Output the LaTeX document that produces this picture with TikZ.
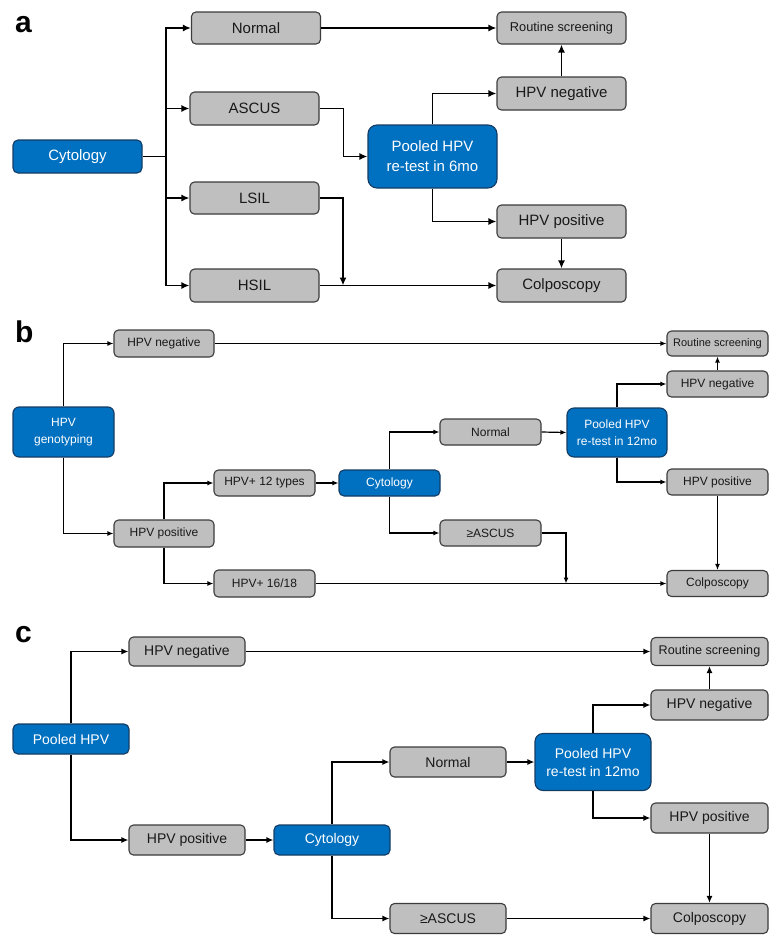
\documentclass[tikz,border=0pt]{standalone}
\usepackage{fontspec}
\setmainfont{Liberation Sans}
\usetikzlibrary{arrows.meta,calc}
\definecolor{boxgray}{RGB}{191,191,191}
\definecolor{boxedge}{RGB}{60,60,60}
\definecolor{boxblue}{RGB}{0,112,192}
\definecolor{blueedge}{RGB}{20,60,100}
\definecolor{txt}{RGB}{25,25,25}
\tikzset{
  gbox/.style={draw=boxedge, fill=boxgray, text=txt, rounded corners=4.5pt, inner sep=0pt, align=center, line width=1.1pt},
  bbox/.style={draw=blueedge, fill=boxblue, text=white, rounded corners=5pt, inner sep=0pt, align=center, line width=1.1pt},
  fa/.style={font=\fontsize{15}{20}\selectfont},
  fas/.style={font=\fontsize{12.8}{16}\selectfont},
  fb/.style={font=\fontsize{12}{16.5}\selectfont},
  fbs/.style={font=\fontsize{11}{14}\selectfont},
  fc/.style={font=\fontsize{14}{18}\selectfont},
  fcs/.style={font=\fontsize{12.6}{16}\selectfont},
  arra/.style={line width=1.8pt, -{Latex[length=8pt,width=7pt]}},
  lina/.style={line width=1.8pt},
  arrb/.style={line width=1.2pt, -{Latex[length=6pt,width=5pt]}},
  linb/.style={line width=1.2pt},
  arrc/.style={line width=1.4pt, -{Latex[length=7pt,width=6pt]}},
  linc/.style={line width=1.4pt},
  plabel/.style={anchor=base west, inner sep=0pt, font=\bfseries\fontsize{30}{30}\selectfont}
}
\begin{document}
\begin{tikzpicture}[x=1pt,y=-1pt]
\useasboundingbox[fill=white] (0,0) rectangle (773,940);

% ---------------- panel a ----------------
\node[plabel] (la) at (15,32) {a};
\node[bbox,fa,minimum width=129,minimum height=33] (acyt) at (77.5,156.5) {Cytology};
\node[gbox,fa,minimum width=129,minimum height=32] (anorm) at (256,28) {Normal};
\node[gbox,fa,minimum width=129,minimum height=33] (aascus) at (254.5,108.5) {ASCUS};
\node[gbox,fa,minimum width=129,minimum height=32] (alsil) at (254.5,198) {LSIL};
\node[gbox,fa,minimum width=129,minimum height=33] (ahsil) at (254.5,285.5) {HSIL};
\node[bbox,fa,rounded corners=9pt,minimum width=129,minimum height=63] (apool) at (432.5,156.5) {Pooled HPV\\re-test in 6mo};
\node[gbox,fas,minimum width=129,minimum height=32] (arout) at (561.5,28) {Routine screening};
\node[gbox,fa,minimum width=129,minimum height=33] (aneg) at (561.5,93.5) {HPV negative};
\node[gbox,fa,minimum width=129,minimum height=33] (apos) at (561.5,221.5) {HPV positive};
\node[gbox,fa,minimum width=129,minimum height=33] (acolp) at (561.5,285.5) {Colposcopy};
\coordinate (atr) at (166,156.5);
\coordinate (aj) at (343,285.5);
\draw[lina] (acyt.east) -- (atr);
\draw[arra] (atr) |- (anorm.west);
\draw[arra] (atr) |- (aascus.west);
\draw[arra] (atr) |- (alsil.west);
\draw[arra] (atr) |- (ahsil.west);
\draw[arra] (aascus.east) -- ++(24,0) |- (apool.west);
\draw[arra] (alsil.east) -| (aj);
\draw[arra] (ahsil.east) -- (acolp.west);
\draw[arra] (anorm.east) -- (arout.west);
\draw[arra] (apool.north) |- (aneg.west);
\draw[arra] (apool.south) |- (apos.west);
\draw[arra] (aneg.north) -- (arout.south);
\draw[arra] (apos.south) -- (acolp.north);

% ---------------- panel b ----------------
\node[plabel] (lb) at (15,342) {b};
\node[bbox,fb,rounded corners=6pt,minimum width=101,minimum height=50] (bgen) at (63.5,432) {HPV\\genotyping};
\node[gbox,fb,minimum width=100,minimum height=27] (bneg) at (164,343.5) {HPV negative};
\node[gbox,fb,minimum width=100,minimum height=27] (bpos) at (164,533.5) {HPV positive};
\node[gbox,fb,minimum width=101,minimum height=26] (b12) at (264.5,483) {HPV+ 12 types};
\node[gbox,fb,minimum width=101,minimum height=27] (b1618) at (264.5,583.5) {HPV+ 16/18};
\node[bbox,fb,minimum width=101,minimum height=26] (bcyt) at (389.5,483) {Cytology};
\node[gbox,fb,minimum width=101,minimum height=26] (bnorm) at (490.5,432) {Normal};
\node[gbox,fb,minimum width=101,minimum height=26] (basc) at (490.5,533) {≥ASCUS};
\node[bbox,fb,rounded corners=7pt,minimum width=100,minimum height=49] (bpool) at (617,432.5) {Pooled HPV\\re-test in 12mo};
\node[gbox,fbs,minimum width=101,minimum height=25] (brout) at (717.5,343.5) {Routine screening};
\node[gbox,fb,minimum width=101,minimum height=26] (bneg2) at (717.5,384) {HPV negative};
\node[gbox,fb,minimum width=101,minimum height=26] (bpos2) at (717.5,482) {HPV positive};
\node[gbox,fb,minimum width=101,minimum height=26] (bcolp) at (717.5,583.5) {Colposcopy};
\coordinate (bj) at (566,583.5);
\draw[arrb] (bgen.north) |- (bneg.west);
\draw[arrb] (bgen.south) |- (bpos.west);
\draw[arrb] (bpos.north) |- (b12.west);
\draw[arrb] (bpos.south) |- (b1618.west);
\draw[arrb] (b12.east) -- (bcyt.west);
\draw[arrb] (bcyt.north) |- (bnorm.west);
\draw[arrb] (bcyt.south) |- (basc.west);
\draw[arrb] (bnorm.east) -- (bpool.west);
\draw[arrb] (bpool.north) |- (bneg2.west);
\draw[arrb] (bpool.south) |- (bpos2.west);
\draw[arrb] (bneg.east) -- (brout.west);
\draw[arrb] (bneg2.north) -- (brout.south);
\draw[arrb] (bpos2.south) -- (bcolp.north);
\draw[arrb] (b1618.east) -- (bcolp.west);
\draw[arrb] (basc.east) -| (bj);

% ---------------- panel c ----------------
\node[plabel] (lc) at (15,642) {c};
\node[bbox,fc,minimum width=116,minimum height=30] (cpool) at (71,739) {Pooled HPV};
\node[gbox,fc,minimum width=116,minimum height=29] (cneg) at (187,651.5) {HPV negative};
\node[gbox,fc,minimum width=116,minimum height=30] (cpos) at (187,840) {HPV positive};
\node[bbox,fc,minimum width=116,minimum height=30] (ccyt) at (332,840) {Cytology};
\node[gbox,fc,minimum width=116,minimum height=30] (cnorm) at (448,762) {Normal};
\node[gbox,fc,minimum width=116,minimum height=30] (casc) at (448,918.5) {≥ASCUS};
\node[bbox,fc,rounded corners=8pt,minimum width=116,minimum height=57] (cpool2) at (593,762) {Pooled HPV\\re-test in 12mo};
\node[gbox,fcs,minimum width=117,minimum height=28] (crout) at (709.5,651.5) {Routine screening};
\node[gbox,fc,minimum width=117,minimum height=30] (cneg2) at (709.5,705) {HPV negative};
\node[gbox,fc,minimum width=117,minimum height=30] (cpos2) at (709.5,818) {HPV positive};
\node[gbox,fc,minimum width=117,minimum height=30] (ccolp) at (709.5,918.5) {Colposcopy};
\draw[arrc] (cpool.north) |- (cneg.west);
\draw[arrc] (cpool.south) |- (cpos.west);
\draw[arrc] (cpos.east) -- (ccyt.west);
\draw[arrc] (ccyt.north) |- (cnorm.west);
\draw[arrc] (ccyt.south) |- (casc.west);
\draw[arrc] (cnorm.east) -- (cpool2.west);
\draw[arrc] (cpool2.north) |- (cneg2.west);
\draw[arrc] (cpool2.south) |- (cpos2.west);
\draw[arrc] (cneg.east) -- (crout.west);
\draw[arrc] (cneg2.north) -- (crout.south);
\draw[arrc] (cpos2.south) -- (ccolp.north);
\draw[arrc] (casc.east) -- (ccolp.west);
\end{tikzpicture}
\end{document}
